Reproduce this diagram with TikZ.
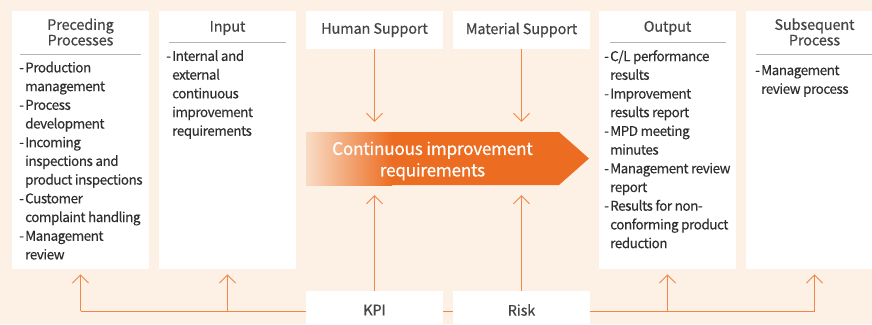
\documentclass[tikz,border=0pt]{standalone}
\usepackage{fontspec}
\setmainfont{Noto Sans CJK KR}[LetterSpace=-3.5,FakeBold=0.2]
\newfontfamily\hfont{Noto Sans CJK KR}[LetterSpace=-1,FakeBold=0.5]
\newfontfamily\afont{Noto Sans CJK KR}[LetterSpace=-1.5,FakeBold=0.6]
\usetikzlibrary{arrows.meta}
\definecolor{bgc}{HTML}{FDF0E5}
\definecolor{lnc}{HTML}{F08648}
\definecolor{orc}{HTML}{EC6D21}
\definecolor{lightc}{HTML}{F9DCC6}
\definecolor{txc}{HTML}{2E2E2E}
\definecolor{hdc}{HTML}{454545}
\definecolor{rulec}{HTML}{B5B5B5}
\newcommand{\itm}[1]{\makebox[6pt][l]{-}#1}
\newcommand{\cnt}[1]{\hspace*{6pt}#1}
\tikzset{
  wbox/.style={fill=white, draw=none, minimum width=137pt, inner sep=0pt, anchor=north},
  hdr/.style={font=\hfont\fontsize{14.5}{15.5}\selectfont, text=hdc, align=center, inner sep=0pt},
  body/.style={font=\fontsize{13.5}{18.7}\selectfont, text=txc, align=left, anchor=north west, inner sep=0pt},
  ln/.style={draw=lnc, line width=0.9pt},
  tip/.style={ln, -{Straight Barb[length=8pt,width=16pt,line width=0.9pt]}},
  hrule/.style={draw=rulec, line width=0.8pt}
}
\begin{document}
\begin{tikzpicture}[x=1pt,y=-1pt]
\fill[bgc] (0,0) rectangle (872,324);
\useasboundingbox (0,0) rectangle (872,324);
% column boxes
\node[wbox, minimum height=258pt] (pp) at (80.5,11) {};
\node[wbox, minimum height=258pt] (in) at (227.5,11) {};
\node[wbox, minimum height=258pt] (out) at (667.5,11) {};
\node[wbox, minimum height=258pt] (ss) at (814.5,11) {};
\node[wbox, minimum height=38pt] (hs) at (374.5,11) {};
\node[wbox, minimum height=38pt] (ms) at (521.5,11) {};
% headers
\node[hdr] (pph) at (80.5,32) {Preceding\\Processes};
\node[hdr] at (227.5,28) {Input};
\node[hdr] at (667.5,28) {Output};
\node[hdr] (ssh) at (814.5,32) {Subsequent\\Process};
\node[hdr] at (374.5,30) {Human Support};
\node[hdr] at (521.5,30) {Material Support};
\draw[hrule] (20,54) -- (141,54);
\draw[hrule] (169,42) -- (286,42);
\draw[hrule] (610,42) -- (726,42);
\draw[hrule] (756,54) -- (873,54);
% body texts
\node[body] at (19,61.5) {\itm{Production}\\\cnt{management}\\\itm{Process}\\\cnt{development}\\\itm{Incoming}\\\cnt{inspections and}\\\cnt{product inspections}\\\itm{Customer}\\\cnt{complaint handling}\\\itm{Management}\\\cnt{review}};
\node[body] at (166,50) {\itm{Internal and}\\\cnt{external}\\\cnt{continuous}\\\cnt{improvement}\\\cnt{requirements}};
\node[body] at (604,50) {\itm{C/L performance}\\\cnt{results}\\\itm{Improvement}\\\cnt{results report}\\\itm{MPD meeting}\\\cnt{minutes}\\\itm{Management review}\\\cnt{report}\\\itm{Results for non-}\\\cnt{conforming product}\\\cnt{reduction}};
\node[body] at (755,65) {\itm{Management}\\\cnt{review process}};
% main arrow
\fill[orc] (306,132) -- (559,132) -- (589,158.5) -- (559,185) -- (306,185) -- cycle;
\shade[left color=lightc, right color=orc] (306,132) rectangle (392,185);
\node[minimum width=253pt, minimum height=53pt, inner sep=0pt] (ci) at (432.5,158.5) {};
\node[font=\afont\fontsize{17.2}{21.5}\selectfont, text=white, align=center, inner sep=0pt] at ([yshift=-2.5pt]ci.center) {Continuous improvement\\requirements};
% feedback line
\coordinate (fb) at (0,311);
\draw[ln] (pp.south |- fb) -- (ss.south |- fb);
\foreach \b in {pp,in,out,ss} \draw[tip, shorten >=5pt] (\b.south |- fb) -- (\b.south);
% KPI / Risk
\node[wbox, minimum height=40pt] (kpi) at (374.5,291) {};
\node[wbox, minimum height=40pt] (risk) at (521.5,291) {};
\node[hdr] at (374.5,310) {KPI};
\node[hdr] at (521.5,310) {Risk};
% support arrows
\draw[tip, shorten >=10pt] (hs.south) -- (hs.south |- ci.north);
\draw[tip, shorten >=10pt] (ms.south) -- (ms.south |- ci.north);
\draw[tip, shorten >=10pt] (kpi.north) -- (kpi.north |- ci.south);
\draw[tip, shorten >=10pt] (risk.north) -- (risk.north |- ci.south);
\end{tikzpicture}
\end{document}
